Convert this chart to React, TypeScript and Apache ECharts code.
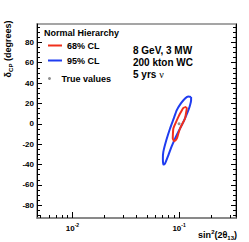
import React, { useEffect, useRef } from "react";
import * as echarts from "echarts";

// Axis ranges
const xMin = 0.00465;
const xMax = 0.342;
const yMin = -92.5;
const yMax = 98;

// Tick values
const xMajorTicks = [0.01, 0.1];
const xMinorTicks = [0.005, 0.006, 0.007, 0.008, 0.009, 0.02, 0.03, 0.04, 0.05, 0.06, 0.07, 0.08, 0.09, 0.2, 0.3];
const yMajorTicks = [-80, -60, -40, -20, 0, 20, 40, 60, 80];
const yMinorTicks = [-90, -85, -75, -70, -65, -55, -50, -45, -35, -30, -25, -15, -10, -5, 5, 10, 15, 25, 30, 35, 45, 50, 55, 65, 70, 75, 85, 90, 95];

// 68% CL contour (sin^2(2θ13), δCP)
const cl68X = [0.1164, 0.1181, 0.1160, 0.1138, 0.1080, 0.1022, 0.0985, 0.0952, 0.0903, 0.0873, 0.0876, 0.0884, 0.0930, 0.0985, 0.1040, 0.1098, 0.1164];
const cl68Y = [16.6, 15.0, 10.0, 5.2, 0.5, -4.6, -9.5, -14.5, -17.1, -14.5, -9.5, -4.6, 1.0, 6.8, 11.5, 15.6, 16.6];

// 95% CL contour
const cl95X = [0.1297, 0.1297, 0.1265, 0.1223, 0.1160, 0.1098, 0.1000, 0.0917, 0.0850, 0.0793, 0.0738, 0.0712, 0.0705, 0.0712, 0.0760, 0.0823, 0.0890, 0.0952, 0.1040, 0.1138, 0.1220, 0.1297];
const cl95Y = [26.4, 23.2, 18.0, 13.4, 7.5, 1.9, -6.5, -14.5, -22.5, -30.9, -39.0, -40.0, -34.0, -27.6, -16.0, -4.6, 5.0, 13.4, 20.0, 24.9, 26.8, 26.4];

// True values
const trueX = [0.1];
const trueY = [0];

const legendNames = ["68% CL", "95% CL", "True values"];
const notes = ["8 GeV, 3 MW", "200 kton WC", "5 yrs "];

const FONT = "Liberation Sans";
const RED = "#f0301c";
const BLUE = "#1f3cf0";

export default function App() {
  const ref = useRef<HTMLDivElement>(null);
  useEffect(() => {
    if (!ref.current) return;
    const chart = echarts.init(ref.current, undefined, { renderer: "svg" });
    const pairs = (xs: number[], ys: number[]) => xs.map((x, i) => [x, ys[i]]);
    const labelStyle = { fontFamily: FONT, fontWeight: "bold" as const, fontSize: 8, color: "#000" };
    const legendText = { fontFamily: FONT, fontWeight: "bold" as const, fontSize: 9, color: "#000" };
    chart.setOption({
      animation: false,
      backgroundColor: "#fff",
      grid: {
        left: 37,
        top: 24,
        right: 13,
        bottom: 24,
        show: true,
        borderColor: "#888",
        borderWidth: 1.5,
        backgroundColor: "transparent",
      },
      xAxis: [
        {
          type: "log",
          logBase: 10,
          min: xMin,
          max: xMax,
          position: "bottom",
          axisLine: { show: true, onZero: false, lineStyle: { color: "#808080", width: 1.5 } },
          axisTick: { show: true, inside: true, length: 6, customValues: xMajorTicks, lineStyle: { color: "#000" } },
          axisLabel: {
            show: true,
            margin: 4,
            customValues: xMajorTicks,
            formatter: (v: number) => `{b|10}{s|${Math.round(Math.log10(v))}}`,
            rich: {
              b: { ...labelStyle, fontSize: 8, verticalAlign: "bottom", lineHeight: 10 },
              s: { ...labelStyle, fontSize: 5, verticalAlign: "top", lineHeight: 10 },
            },
          },
          splitLine: { show: false },
          minorTick: { show: false },
        },
        {
          type: "log",
          logBase: 10,
          min: xMin,
          max: xMax,
          position: "bottom",
          axisLine: { show: false, onZero: false },
          axisTick: { show: true, inside: true, length: 3, customValues: xMinorTicks, lineStyle: { color: "#000" } },
          axisLabel: { show: false },
          splitLine: { show: false },
        },
      ],
      yAxis: [
        {
          type: "value",
          min: yMin,
          max: yMax,
          position: "left",
          axisLine: { show: true, onZero: false, lineStyle: { color: "#000", width: 1 } },
          axisTick: { show: true, inside: true, length: 5, customValues: yMajorTicks, lineStyle: { color: "#000" } },
          axisLabel: { show: true, margin: 3, customValues: yMajorTicks, ...labelStyle },
          splitLine: { show: false },
        },
        {
          type: "value",
          min: yMin,
          max: yMax,
          position: "left",
          axisLine: { show: false, onZero: false },
          axisTick: { show: true, inside: true, length: 3, customValues: yMinorTicks, lineStyle: { color: "#000" } },
          axisLabel: { show: false },
          splitLine: { show: false },
        },
        {
          type: "value",
          min: yMin,
          max: yMax,
          position: "right",
          axisLine: { show: true, onZero: false, lineStyle: { color: "#000", width: 1 } },
          axisTick: { show: true, inside: true, length: 5, customValues: yMajorTicks, lineStyle: { color: "#000" } },
          axisLabel: { show: false },
          splitLine: { show: false },
        },
        {
          type: "value",
          min: yMin,
          max: yMax,
          position: "right",
          axisLine: { show: false, onZero: false },
          axisTick: { show: true, inside: true, length: 3, customValues: yMinorTicks, lineStyle: { color: "#000" } },
          axisLabel: { show: false },
          splitLine: { show: false },
        },
      ],
      legend: [
        {
          data: [{ name: legendNames[0], icon: "rect", itemStyle: { color: RED, borderWidth: 0 } }],
          left: 48,
          top: 41,
          padding: 0,
          itemWidth: 14,
          itemHeight: 2,
          lineStyle: { width: 0 },
          itemStyle: { borderWidth: 0 },
          textStyle: legendText,
        },
        {
          data: [{ name: legendNames[1], icon: "rect", itemStyle: { color: BLUE, borderWidth: 0 } }],
          left: 48,
          top: 56,
          padding: 0,
          itemWidth: 14,
          itemHeight: 2,
          lineStyle: { width: 0 },
          itemStyle: { borderWidth: 0 },
          textStyle: legendText,
        },
        {
          data: [{ name: legendNames[2], icon: "circle" }],
          left: 48,
          top: 74,
          padding: 0,
          itemWidth: 14,
          itemHeight: 3,
          textStyle: legendText,
        },
      ],
      series: [
        {
          name: legendNames[1],
          type: "line",
          xAxisIndex: 0,
          yAxisIndex: 0,
          data: pairs(cl95X, cl95Y),
          symbol: "none",
          smooth: 0.2,
          lineStyle: { color: BLUE, width: 2 },
          itemStyle: { color: BLUE },
        },
        {
          name: legendNames[0],
          type: "line",
          xAxisIndex: 0,
          yAxisIndex: 0,
          data: pairs(cl68X, cl68Y),
          symbol: "none",
          smooth: 0.2,
          lineStyle: { color: RED, width: 2 },
          itemStyle: { color: RED },
        },
        {
          name: legendNames[2],
          type: "scatter",
          xAxisIndex: 0,
          yAxisIndex: 0,
          data: pairs(trueX, trueY),
          symbol: "circle",
          symbolSize: 3,
          itemStyle: { color: "#777" },
        },
      ],
      graphic: [
        {
          type: "text",
          x: 44,
          y: 33,
          style: { text: "Normal Hierarchy", fontFamily: FONT, fontWeight: "bold", fontSize: 9, fill: "#000", align: "left", verticalAlign: "middle" },
        },
        {
          type: "text",
          x: 133,
          y: 50,
          style: { text: notes[0], fontFamily: FONT, fontWeight: "bold", fontSize: 10, fill: "#000", align: "left", verticalAlign: "middle" },
        },
        {
          type: "text",
          x: 133,
          y: 62,
          style: { text: notes[1], fontFamily: FONT, fontWeight: "bold", fontSize: 10, fill: "#000", align: "left", verticalAlign: "middle" },
        },
        {
          type: "text",
          x: 133,
          y: 74,
          style: {
            text: `{a|${notes[2]}}{n|ν}`,
            fill: "#000",
            align: "left",
            verticalAlign: "middle",
            rich: {
              a: { fontFamily: FONT, fontWeight: "bold", fontSize: 10, fill: "#000" },
              n: { fontFamily: "Liberation Serif", fontSize: 10, fill: "#000" },
            },
          },
        },
        {
          type: "text",
          x: 8,
          y: 49,
          rotation: Math.PI / 2,
          style: {
            text: "{a|δ}{b|CP}{a| (degrees)}",
            align: "center",
            verticalAlign: "middle",
            fill: "#000",
            rich: {
              a: { fontFamily: FONT, fontWeight: "bold", fontSize: 9, lineHeight: 12, verticalAlign: "middle", fill: "#000" },
              b: { fontFamily: FONT, fontWeight: "bold", fontSize: 6, lineHeight: 12, verticalAlign: "bottom", fill: "#000" },
            },
          },
        },
        {
          type: "text",
          x: 237,
          y: 235,
          style: {
            text: "{a|sin}{p|2}{a|(2θ}{b|13}{a|)}",
            align: "right",
            verticalAlign: "middle",
            fill: "#000",
            rich: {
              a: { fontFamily: FONT, fontWeight: "bold", fontSize: 9, lineHeight: 12, verticalAlign: "middle", fill: "#000" },
              p: { fontFamily: FONT, fontWeight: "bold", fontSize: 6, lineHeight: 12, verticalAlign: "top", fill: "#000" },
              b: { fontFamily: FONT, fontWeight: "bold", fontSize: 6, lineHeight: 12, verticalAlign: "bottom", fill: "#000" },
            },
          },
        },
      ],
    });
    return () => chart.dispose();
  }, []);
  return (
    <div
      ref={ref}
      style={{ position: "fixed", left: 0, top: 0, width: 249, height: 242, background: "#fff" }}
    />
  );
}
